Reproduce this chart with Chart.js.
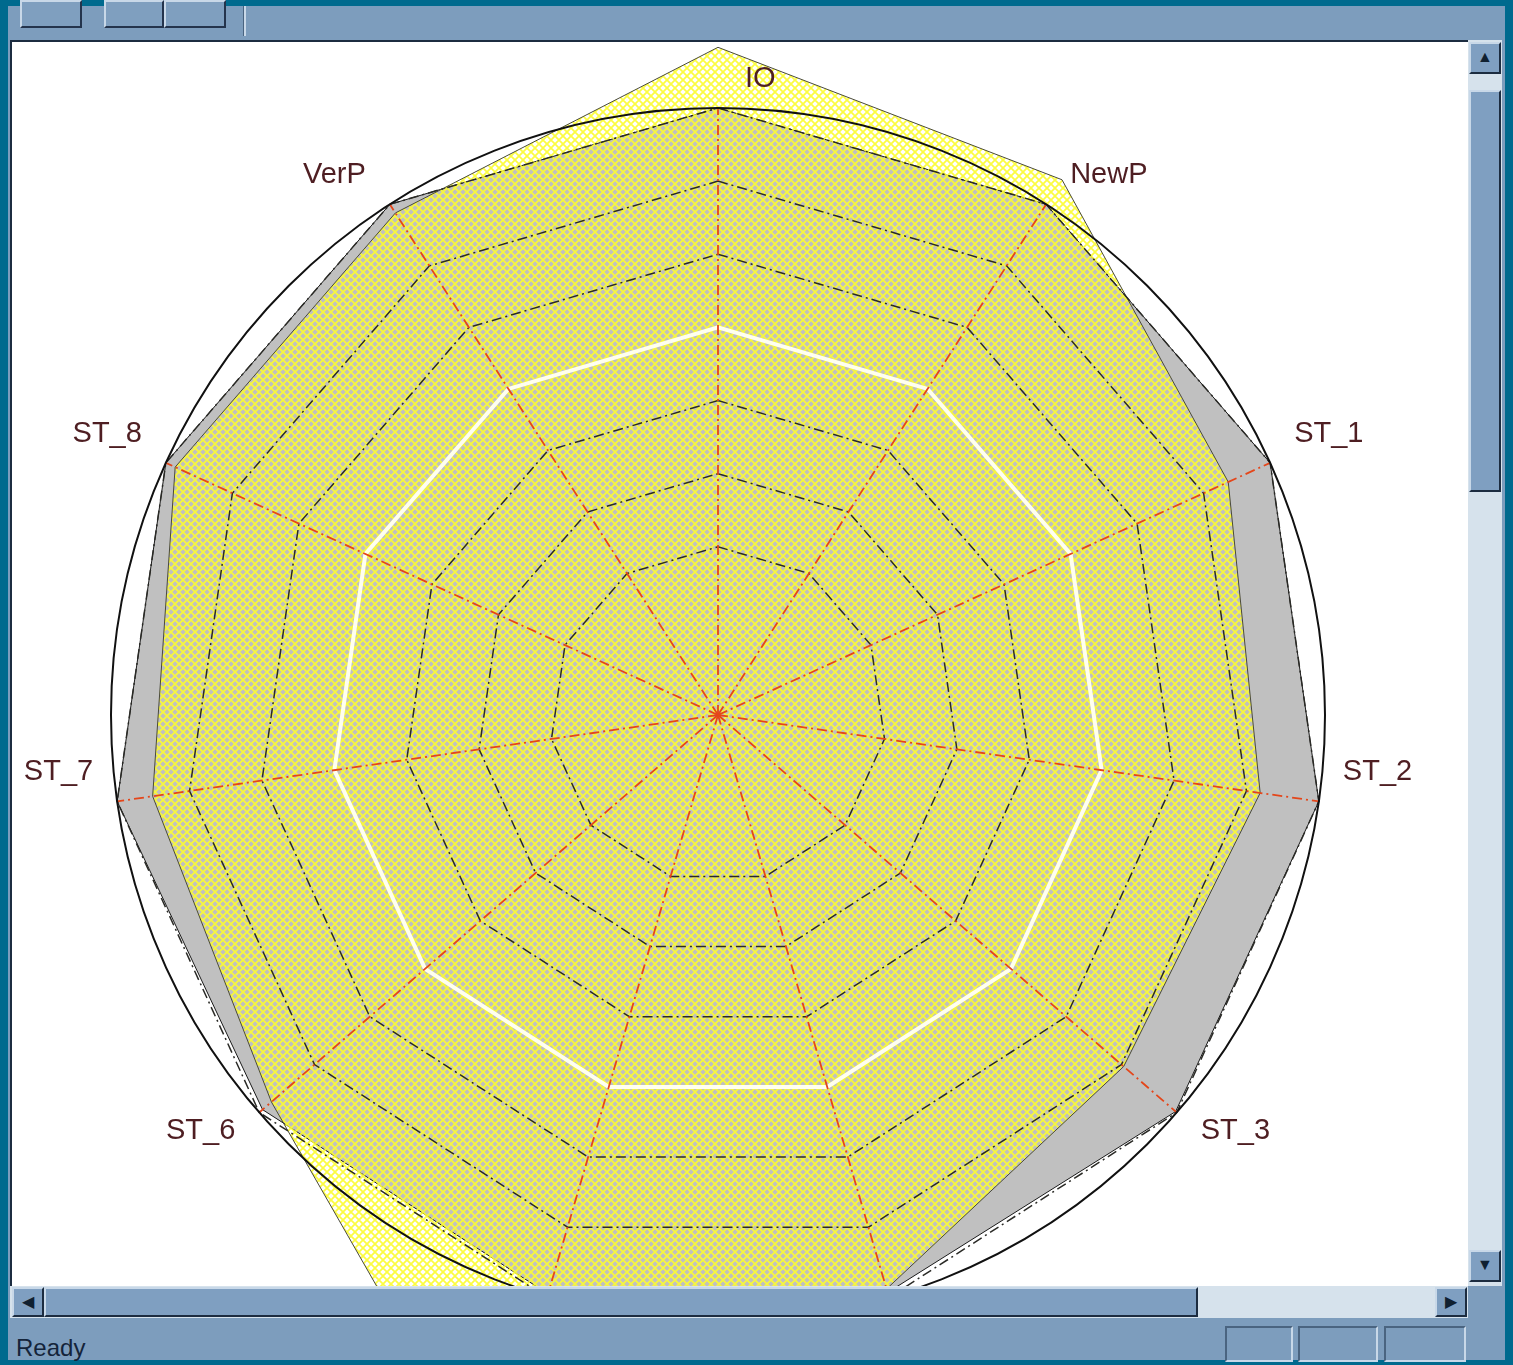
<!DOCTYPE html>
<html>
<head>
<meta charset="utf-8">
<script src="https://cdn.jsdelivr.net/npm/chart.js@4.4.1/dist/chart.umd.min.js"></script>
<style>
  html, body { margin: 0; padding: 0; }
  body { width: 1513px; height: 1365px; background: #006a8e; position: relative; overflow: hidden; font-family: "Liberation Sans", Arial, sans-serif; }
  .win { position: absolute; left: 8px; top: 6px; width: 1497px; height: 1354px; background: #7d9dbd; }
  .btn { position: absolute; top: -6px; height: 28px; background: #7f9fbf; border: 2px solid; border-color: #c8d8e8 #24344c #24344c #c8d8e8; box-sizing: border-box; }
  .sep { position: absolute; left: 235px; top: 0; width: 2px; height: 30px; background: #c8d8e8; border-left: 1px solid #4a6480; }
  #plot { position: absolute; left: 10px; top: 40px; width: 1458px; height: 1246px; background: #fff; overflow: hidden; border-top: 2px solid #1c2c40; border-left: 2px solid #1c2c40; box-sizing: border-box; }
  #plot canvas { position: absolute; left: -1px; top: -34px; }
  .track { position: absolute; background: #d6e2ec; }
  .sb { position: absolute; background: #7f9fc1; border: 2px solid; border-color: #c8d8e8 #1c2c40 #1c2c40 #c8d8e8; box-sizing: border-box; color: #102030; font-size: 16px; line-height: 26px; text-align: center; }
  .status { position: absolute; left: 16px; top: 1334px; font-size: 24px; color: #14243a; }
  .panel { position: absolute; top: 1326px; height: 36px; border: 2px solid; border-color: #4a6480 #c8d8e8 #c8d8e8 #4a6480; box-sizing: border-box; }
</style>
</head>
<body>
<div class="win">
  <div class="btn" style="left:12px;width:62px;"></div>
  <div class="btn" style="left:96px;width:60px;"></div>
  <div class="btn" style="left:156px;width:62px;"></div>
  <div class="sep"></div>
</div>
<div id="plot"><canvas id="radar" width="1414" height="1414"></canvas></div>
<!-- barra vertical -->
<div class="track" style="left:1468px;top:40px;width:34px;height:1246px;"></div>
<div class="sb" style="left:1469px;top:42px;width:32px;height:32px;">&#9650;</div>
<div class="sb" style="left:1469px;top:90px;width:32px;height:402px;"></div>
<div class="sb" style="left:1469px;top:1250px;width:32px;height:32px;">&#9660;</div>
<!-- barra horizontal -->
<div class="track" style="left:10px;top:1286px;width:1458px;height:32px;"></div>
<div class="sb" style="left:12px;top:1287px;width:32px;height:30px;">&#9664;</div>
<div class="sb" style="left:44px;top:1287px;width:1154px;height:30px;"></div>
<div class="sb" style="left:1435px;top:1287px;width:32px;height:30px;">&#9654;</div>
<div style="position:absolute;left:1468px;top:1286px;width:36px;height:34px;background:#7d9dbd;"></div>
<!-- barra de estado -->
<div class="status">Ready</div>
<div class="panel" style="left:1225px;width:68px;"></div>
<div class="panel" style="left:1298px;width:80px;"></div>
<div class="panel" style="left:1384px;width:82px;"></div>

<script>
// DATOS
const labels = ["IO", "NewP", "ST_1", "ST_2", "ST_3", "ST_4", "ST_5", "ST_6", "ST_7", "ST_8", "VerP"];
const greyValues = [83, 83, 83, 83, 82.8, 82.3, 82.5, 82.4, 83, 83, 83];
const yellowValues = [91.3, 87, 76.7, 74.9, 73.4, 81.8, 110, 80.8, 78.1, 81.6, 81.6];
const tickValues = [23, 33, 43, 53, 63, 73, 83];
const highlightTick = 53;
const scaleMax = 83;

// Trama amarilla cruzada
function hatchPattern() {
    var c = document.createElement("canvas");
    c.width = 8;
    c.height = 8;
    var g = c.getContext("2d");
    g.strokeStyle = "rgba(252, 252, 50, 0.92)";
    g.lineWidth = 1.8;
    g.beginPath();
    g.moveTo(-1, -1); g.lineTo(9, 9);
    g.moveTo(9, -1); g.lineTo(-1, 9);
    g.stroke();
    return g.createPattern(c, "repeat");
}

// circulo exterior + etiquetas
const radarExtras = {
    id: "radarExtras",
    afterDraw: function (chart) {
        var s = chart.scales.r;
        var ctx = chart.ctx;
        var R = s.drawingArea;
        ctx.save();
        ctx.strokeStyle = "#111";
        ctx.lineWidth = 2;
        ctx.setLineDash([]);
        ctx.beginPath();
        ctx.arc(s.xCenter, s.yCenter, R, 0, Math.PI * 2);
        ctx.stroke();

        ctx.font = "29px 'Liberation Sans', Arial, sans-serif";
        ctx.fillStyle = "#4e1e22";
        ctx.textBaseline = "middle";
        labels.forEach(function (txt, i) {
            var p = s.getPointPosition(i, R);
            var dx = p.x - s.xCenter;
            var x, y;
            if (Math.abs(dx) < 1) {
                ctx.textAlign = "left";
                x = p.x + 27;
            } else if (dx > 0) {
                ctx.textAlign = "left";
                x = p.x + 24;
            } else {
                ctx.textAlign = "right";
                x = p.x - 24;
            }
            if (p.y - s.yCenter < R * 0.5) {
                y = p.y - 29;
            } else {
                y = p.y + 18;
            }
            ctx.fillText(txt, x, y);
        });
        ctx.restore();
    }
};

const ctx = document.getElementById("radar").getContext("2d");
new Chart(ctx, {
    type: "radar",
    data: {
        labels: labels,
        datasets: [{
            label: "base",
            data: greyValues,
            order: 2,
            backgroundColor: "#c0c0c0",
            borderColor: "#1a1a1a",
            borderWidth: 1,
            pointRadius: 0,
            fill: true,
            clip: false
        }, {
            label: "valor",
            data: yellowValues,
            order: 1,
            backgroundColor: hatchPattern(),
            borderColor: "#4a4a3a",
            borderWidth: 1,
            pointRadius: 0,
            fill: true,
            clip: false
        }]
    },
    options: {
        responsive: false,
        animation: false,
        layout: { padding: { left: 100, right: 100, top: 0, bottom: 0 } },
        plugins: {
            legend: { display: false },
            tooltip: { enabled: false }
        },
        scales: {
            r: {
                min: 0,
                max: scaleMax,
                afterBuildTicks: function (scale) {
                    scale.ticks = [0].concat(tickValues).map(function (v) { return { value: v }; });
                },
                ticks: { display: false },
                pointLabels: { display: false },
                grid: {
                    z: 1,
                    circular: false,
                    color: function (c) {
                        return c.tick && c.tick.value === highlightTick ? "#fffff0" : "#2a2a26";
                    },
                    lineWidth: function (c) {
                        return c.tick && c.tick.value === highlightTick ? 4 : 1.5;
                    }
                },
                border: {
                    dash: function (c) {
                        return c.tick && c.tick.value === highlightTick ? [] : [10, 4, 2, 4];
                    }
                },
                angleLines: {
                    color: "#e4461a",
                    lineWidth: 1.8,
                    borderDash: [10, 4, 2, 4]
                }
            }
        }
    },
    plugins: [radarExtras]
});
</script>
</body>
</html>
